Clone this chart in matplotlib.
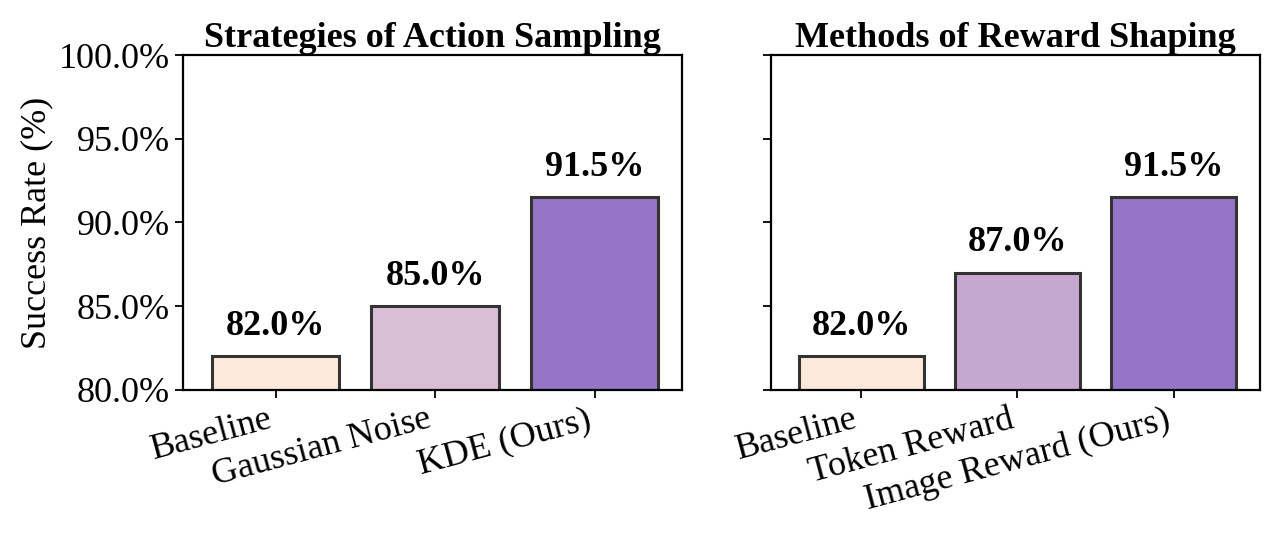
import numpy as np
import matplotlib.pyplot as plt

plt.rcParams['font.family'] = ['Liberation Serif', 'DejaVu Serif']

# datos de los dos paneles
sampling_labels = ["Baseline", "Gaussian Noise", "KDE (Ours)"]
sampling_values = [82.0, 85.0, 91.5]
sampling_colors = ["#FDE9DC", "#D9BED4", "#9575C8"]

reward_labels = ["Baseline", "Token Reward", "Image Reward (Ours)"]
reward_values = [82.0, 87.0, 91.5]
reward_colors = ["#FDE9DC", "#C6A7D0", "#9575C8"]

titles = ["Strategies of Action Sampling", "Methods of Reward Shaping"]
yticks = [80, 85, 90, 95, 100]

FS = 26

fig = plt.figure(figsize=(12.8, 5.34), dpi=100)
ax1 = fig.add_axes([0.143, 0.270, 0.390, 0.627])
ax2 = fig.add_axes([0.602, 0.270, 0.382, 0.627])

panels = [
    (ax1, sampling_labels, sampling_values, sampling_colors, titles[0]),
    (ax2, reward_labels, reward_values, reward_colors, titles[1]),
]

for ax, labels, values, colors, title in panels:
    x = np.arange(len(labels))
    bars = ax.bar(x, values, width=0.8, color=colors, edgecolor="#333333", linewidth=2.2)
    for b, v in zip(bars, values):
        ax.text(b.get_x() + b.get_width() / 2, v + 0.8, f"{v:.1f}%",
                ha="center", va="bottom", fontsize=FS, fontweight="bold")
    ax.set_ylim(80, 100)
    ax.set_xlim(-0.58, 2.55)
    ax.set_yticks(yticks)
    ax.set_xticks(x)
    ax.set_xticklabels(labels, rotation=15, ha="right", fontsize=FS)
    ax.set_title(title, fontsize=FS, fontweight="bold", pad=6)
    ax.tick_params(axis="both", length=6, width=1.3)
    for s in ax.spines.values():
        s.set_linewidth(1.6)

ax1.set_yticklabels([f"{t:.1f}%" for t in yticks], fontsize=FS)
ax1.set_ylabel("Success Rate (%)", fontsize=FS)
ax2.set_yticklabels([])

fig.savefig("out.png", dpi=100)
